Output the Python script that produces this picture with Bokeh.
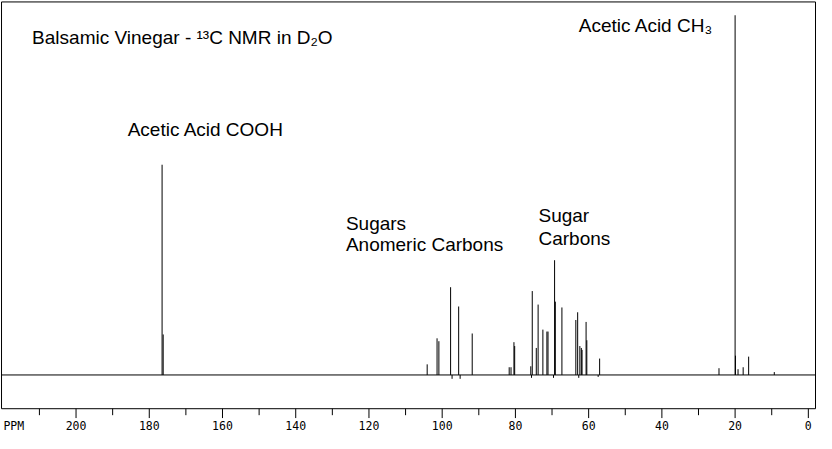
from bokeh.plotting import figure
from bokeh.models import Range1d, Label, ColumnDataSource
from bokeh.core.properties import value
from bokeh.embed import file_html
from bokeh.resources import INLINE

# ---- data (ppm positions and peak heights, arbitrary units, baseline = 0) ----
peak_ppm = [176.5, 176.2, 104.1, 101.4, 100.9, 97.7, 95.5, 91.8,
            81.7, 81.2, 80.4, 80.2, 75.8, 75.4, 74.3, 73.8, 72.5,
            71.4, 71.1, 69.3, 69.1, 67.3, 63.5, 63.0, 62.4, 62.0,
            61.8, 60.7, 60.5, 57.0, 24.4, 20.0, 19.9, 19.2, 17.8,
            16.3, 9.3]
peak_height = [218, 42, 11, 38, 35, 91, 71, 43,
               8, 8, 34, 30, 9, 87, 28, 73, 47,
               45, 45, 119, 76, 70, 57, 65, 30, 28,
               26, 55, 36, 17, 7, 373, 20, 6, 8,
               19, 3]
dip_ppm = [97.3, 95.1, 75.6, 69.6, 62.7, 57.4]
dip_depth = [-4, -4, -3, -3, -3, -2]

major_ticks = [200, 180, 160, 140, 120, 100, 80, 60, 40, 20, 0]
minor_ticks = [210, 190, 170, 150, 130, 110, 90, 70, 50, 30, 10]
tick_labels = ["200", "180", "160", "140", "120", "100", "80", "60", "40", "20", "0"]
unit_label_pos = 217
unit_label = "PPM"

# plot box (ppm span, intensity span) and tick geometry in intensity units
box_ppm = (220.35, -1.96)
box_val = (-35.0, 386.8)
major_tick_end = -44.7
minor_tick_end = -41.7
tick_label_val = -52.5

title_text = "Balsamic Vinegar - \u00b9\u00b3C NMR in D\u2082O"
annotations = [
    # text, ppm (left edge), intensity (baseline)
    (title_text, 212.0, 350),
    ("Acetic Acid COOH", 185.9, 255),
    ("Acetic Acid CH\u2083", 62.7, 362),
    ("Sugars", 126.3, 157),
    ("Anomeric Carbons", 126.3, 135),
    ("Sugar", 73.7, 165),
    ("Carbons", 73.7, 141),
]

p = figure(width=816, height=433, output_backend="svg", toolbar_location=None,
           x_range=Range1d(220.63, -2.23), y_range=Range1d(-60.7, 388.3),
           x_axis_location=None, y_axis_location=None,
           min_border_left=0, min_border_right=0,
           min_border_top=0, min_border_bottom=0)
p.background_fill_color = "white"
p.border_fill_color = "white"
p.outline_line_color = None
p.xgrid.visible = False
p.ygrid.visible = False

# box
bx = [box_ppm[0], box_ppm[1], box_ppm[1], box_ppm[0], box_ppm[0]]
by = [box_val[0], box_val[0], box_val[1], box_val[1], box_val[0]]
p.line(bx, by, line_color="black", line_width=1)

# tick marks and tick labels
p.segment(x0=major_ticks, y0=[box_val[0]] * len(major_ticks), x1=major_ticks,
          y1=[major_tick_end] * len(major_ticks), line_color="black", line_width=1)
p.segment(x0=minor_ticks, y0=[box_val[0]] * len(minor_ticks), x1=minor_ticks,
          y1=[minor_tick_end] * len(minor_ticks), line_color="black", line_width=1)
lab_x = [unit_label_pos] + major_ticks
lab_t = [unit_label] + tick_labels
p.text(x=lab_x, y=[tick_label_val] * len(lab_x), text=lab_t,
       text_font=value("DejaVu Sans Mono"), text_font_size="11.5px",
       text_align="center", text_baseline="middle", text_color="black")

# spectrum
p.line([box_ppm[0], box_ppm[1]], [0, 0], line_color="black", line_width=1)
src = ColumnDataSource(dict(x=peak_ppm, y0=[0] * len(peak_ppm), y1=peak_height))
p.segment(x0="x", y0="y0", x1="x", y1="y1", source=src, line_color="black", line_width=1)
dsrc = ColumnDataSource(dict(x=dip_ppm, y0=[0] * len(dip_ppm), y1=dip_depth))
p.segment(x0="x", y0="y0", x1="x", y1="y1", source=dsrc, line_color="black", line_width=1)

font = "Liberation Sans"
for txt, xx, yy in annotations:
    p.add_layout(Label(x=xx, y=yy, text=txt, text_font=font,
                       text_font_size="19px", text_baseline="alphabetic",
                       text_color="black"))

open("out.html", "w").write(file_html(p, INLINE))
